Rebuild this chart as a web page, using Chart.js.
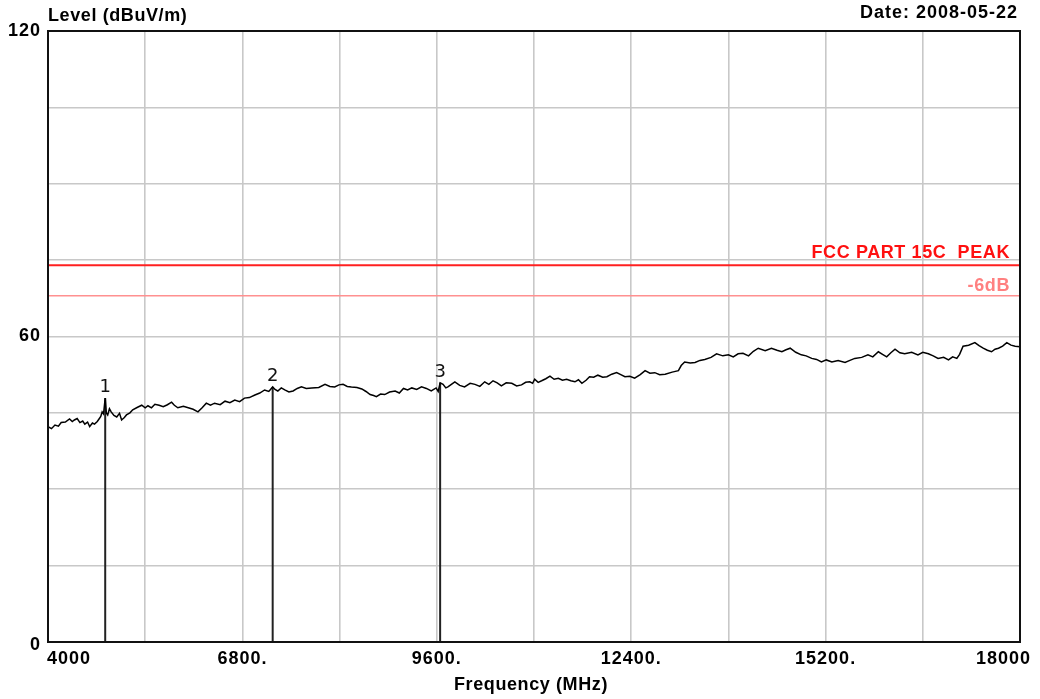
<!DOCTYPE html>
<html>
<head>
<meta charset="utf-8">
<script src="https://cdn.jsdelivr.net/npm/chart.js@4/dist/chart.umd.min.js"></script>
<style>
html,body{margin:0;padding:0;background:#fff;}
#c{display:block;}
</style>
</head>
<body>
<canvas id="c" width="1040" height="699"></canvas>
<script>
// ---- data ----
const traceFreq = [4000,4050,4100,4150,4190,4250,4310,4350,4380,4420,4460,4500,4530,4570,4600,4640,4670,4710,4740,4760,4780,4800,4824,4840,4860,4885,4910,4950,4990,5030,5060,5100,5130,5180,5220,5290,5350,5400,5440,5490,5540,5600,5660,5720,5780,5820,5870,5950,6020,6090,6160,6220,6280,6340,6400,6480,6550,6620,6690,6760,6830,6900,6980,7050,7120,7180,7236,7270,7310,7360,7410,7470,7530,7590,7650,7720,7800,7900,7990,8060,8130,8190,8250,8310,8370,8450,8520,8580,8640,8690,8730,8790,8850,8920,9000,9060,9120,9180,9240,9310,9380,9450,9520,9590,9620,9648,9690,9730,9760,9810,9860,9930,10000,10080,10150,10220,10290,10350,10410,10470,10530,10600,10680,10750,10820,10880,10940,10980,11010,11060,11110,11170,11230,11290,11350,11410,11470,11530,11590,11640,11690,11750,11800,11860,11920,11990,12050,12120,12190,12250,12310,12380,12450,12530,12600,12670,12740,12810,12890,12990,13080,13120,13170,13250,13320,13390,13460,13550,13630,13720,13800,13870,13940,14010,14090,14160,14230,14330,14420,14500,14570,14630,14690,14770,14850,14920,15000,15070,15140,15210,15290,15380,15480,15550,15620,15720,15810,15880,15960,16020,16080,16140,16200,16270,16340,16440,16530,16600,16680,16750,16820,16900,16970,17030,17090,17130,17180,17260,17350,17410,17470,17530,17590,17640,17690,17750,17810,17870,17930,18000];
const traceLevel = [42.3,41.9,42.6,42.4,43.1,43.2,43.8,43.3,43.6,43.9,43.1,43.4,42.8,43.2,42.3,43.0,42.8,43.3,43.9,44.3,45.2,44.8,47.9,45.0,44.6,45.8,45.2,44.5,44.2,44.9,43.6,44.1,44.6,45.0,45.6,46.1,46.5,46.0,46.4,46.0,46.7,46.5,46.2,46.6,47.1,46.5,46.0,46.3,46.0,45.7,45.2,46.0,46.9,46.5,46.9,46.6,47.3,47.0,47.5,47.2,47.9,48.0,48.5,48.9,49.5,49.2,50.1,49.6,49.3,49.9,49.5,49.1,49.3,49.8,50.1,49.8,49.9,50.0,50.6,50.2,50.1,50.5,50.6,50.2,50.1,50.0,49.7,49.2,48.6,48.4,48.2,48.7,48.6,49.1,49.3,48.9,49.8,49.5,49.9,49.6,50.1,49.8,49.3,49.9,49.2,50.9,50.6,49.9,50.1,50.6,51.1,50.4,50.1,50.8,50.6,50.2,51.1,50.6,51.3,50.9,50.3,50.9,50.8,50.3,50.5,51.0,51.1,50.8,51.6,51.0,51.3,51.7,52.2,51.6,51.8,51.4,51.6,51.3,51.1,51.5,50.8,51.4,52.1,52.0,52.4,52.0,52.1,52.6,52.9,52.5,52.1,52.2,51.8,52.5,53.3,52.8,52.9,52.5,52.6,53.0,53.3,54.3,55.0,54.8,54.9,55.3,55.5,55.9,56.6,56.2,56.4,56.0,56.6,56.7,56.2,57.1,57.7,57.2,57.7,57.3,57.0,57.4,57.7,56.9,56.4,56.2,55.7,55.5,55.0,55.4,55.0,55.3,54.9,55.3,55.7,55.9,56.4,56.0,57.0,56.5,56.0,56.8,57.5,56.8,56.6,56.9,56.4,56.9,56.6,56.2,55.7,55.9,55.4,56.0,55.7,56.5,58.1,58.3,58.8,58.2,57.7,57.3,57.0,57.5,57.7,58.1,58.8,58.3,58.1,58.0];
const markerNo = ["1","2","3"];
const markerFreq = [4824,7236,9648];
const markerLevel = [47.9,50.1,50.9];
const limitPeak = 74;
const limitMargin = 68;
const limitPeakLabel = "FCC PART 15C  PEAK";
const limitMarginLabel = "-6dB";
const xTickValues = [4000,6800,9600,12400,15200,18000];
const xTickLabels = ["4000","6800.","9600.","12400.","15200.","18000"];
const yTickValues = [0,60,120];
const yTickLabels = ["0","60","120"];
const xMin = 4000, xMax = 18000, yMin = 0, yMax = 120;
const yTitle = "Level (dBuV/m)";
const xTitle = "Frequency (MHz)";
const dateText = "Date: 2008-05-22";

// ---- datasets ----
const traceData = traceFreq.map((f,i)=>({x:f,y:traceLevel[i]}));
const markerSets = markerFreq.map((f,i)=>({
  label:'M'+markerNo[i],
  data:[{x:f,y:0},{x:f,y:markerLevel[i]}],
  borderColor:'#222', borderWidth:2, pointRadius:0, order:2
}));

const BOLD = 'bold 18px "Liberation Sans", Arial, sans-serif';

const deco = {
  id:'deco',
  afterDraw(chart){
    const {ctx, chartArea:a, scales:{x,y}} = chart;
    ctx.save();
    // frame
    ctx.strokeStyle='#111'; ctx.lineWidth=2;
    ctx.strokeRect(a.left, a.top, a.right-a.left, a.bottom-a.top);
    ctx.fillStyle='#000';
    try{ ctx.letterSpacing='1px'; }catch(e){}
    ctx.font=BOLD;
    // y tick labels
    ctx.textAlign='right'; ctx.textBaseline='middle';
    yTickValues.forEach((v,i)=>{
      let py=y.getPixelForValue(v);
      if(v===yMin) py+=3;
      ctx.fillText(yTickLabels[i], a.left-7, py);
    });
    // x tick labels
    ctx.textBaseline='top';
    xTickValues.forEach((v,i)=>{
      const px=x.getPixelForValue(v);
      if(i===0){ctx.textAlign='left'; ctx.fillText(xTickLabels[i], px-1, a.bottom+8);}
      else if(i===xTickValues.length-1){ctx.textAlign='right'; ctx.fillText(xTickLabels[i], px+11, a.bottom+8);}
      else {ctx.textAlign='center'; ctx.fillText(xTickLabels[i], px, a.bottom+8);}
    });
    // titles
    ctx.textAlign='left'; ctx.textBaseline='alphabetic';
    try{ ctx.letterSpacing='0.6px'; }catch(e){}
    ctx.fillText(yTitle, a.left, 21);
    try{ ctx.letterSpacing='1px'; }catch(e){}
    ctx.textAlign='right';
    ctx.fillText(dateText, 1018, 18);
    ctx.textAlign='center';
    try{ ctx.letterSpacing='0.6px'; }catch(e){}
    ctx.fillText(xTitle, (a.left+a.right)/2-3, 690);
    // limit labels
    ctx.textAlign='right';
    ctx.fillStyle='#ff1010';
    ctx.fillText(limitPeakLabel, 1010, y.getPixelForValue(limitPeak)-7);
    ctx.fillStyle='#ff8080';
    ctx.fillText(limitMarginLabel, 1010, y.getPixelForValue(limitMargin)-5);
    // marker numbers
    ctx.fillStyle='#111';
    try{ ctx.letterSpacing='0px'; }catch(e){}
    ctx.font='18px "DejaVu Sans", sans-serif';
    ctx.textAlign='center'; ctx.textBaseline='alphabetic';
    markerFreq.forEach((f,i)=>{
      ctx.fillText(markerNo[i], x.getPixelForValue(f), y.getPixelForValue(markerLevel[i])-6);
    });
    ctx.restore();
  }
};

new Chart(document.getElementById('c'), {
  type:'line',
  data:{datasets:[
    {label:'trace', data:traceData, borderColor:'#000', borderWidth:1.5, pointRadius:0, tension:0, order:1},
    ...markerSets,
    {label:'limit', data:[{x:xMin,y:limitPeak},{x:xMax,y:limitPeak}], borderColor:'#ff2020', borderWidth:2, pointRadius:0, order:3},
    {label:'margin', data:[{x:xMin,y:limitMargin},{x:xMax,y:limitMargin}], borderColor:'#ff9090', borderWidth:1.6, pointRadius:0, order:3}
  ]},
  options:{
    responsive:false, animation:false, devicePixelRatio:1,
    layout:{padding:{left:48, right:20, top:31, bottom:57}},
    plugins:{legend:{display:false}, tooltip:{enabled:false}, title:{display:false}},
    scales:{
      x:{type:'linear', min:xMin, max:xMax,
         ticks:{display:false, stepSize:1400},
         grid:{color:'#c8c8c8', lineWidth:1.6, drawTicks:false},
         border:{display:false},
         afterFit(s){s.height=0;}},
      y:{type:'linear', min:yMin, max:yMax,
         ticks:{display:false, stepSize:15},
         grid:{color:'#c8c8c8', lineWidth:1.6, drawTicks:false},
         border:{display:false},
         afterFit(s){s.width=0;}}
    }
  },
  plugins:[deco]
});
</script>
</body>
</html>
